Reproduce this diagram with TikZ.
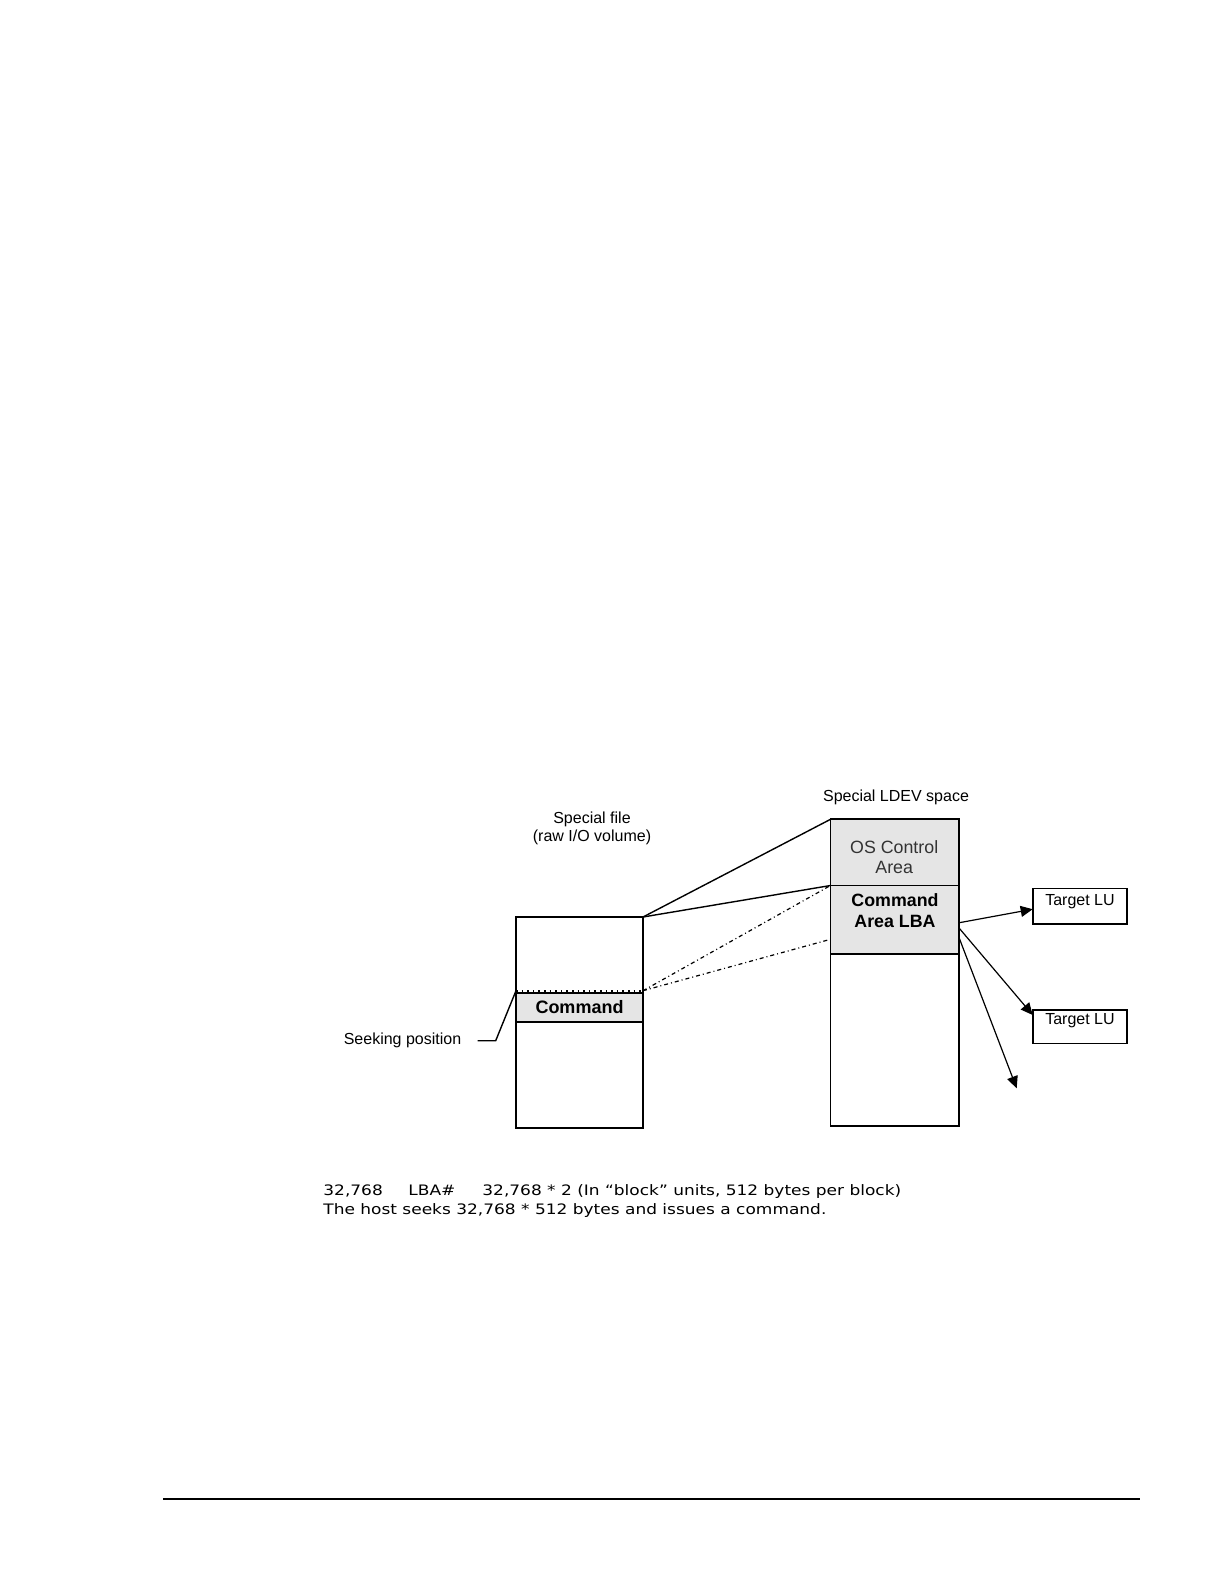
\documentclass[tikz,border=0pt]{standalone}
\usepackage{fontspec}
\setmainfont{Liberation Sans}
\newfontfamily\verdfont[FakeStretch=1.18]{DejaVu Sans}
\usetikzlibrary{arrows.meta}

\tikzset{
	blk/.style={draw, inner sep=0pt, outer sep=0pt, line width=0.9pt},
	grayblk/.style={blk, fill=black!10},
	lbl/.style={font=\fontsize{8}{8.85}\selectfont, align=center, inner sep=0pt},
	dashdot/.style={line width=0.6pt, dash pattern=on 2pt off 1.5pt on 0.5pt off 1.5pt},
	note/.style={font=\verdfont\fontsize{7.2}{9.5}\selectfont, inner sep=0pt, anchor=base west}
}

\begin{document}
\begin{tikzpicture}[x=0.5pt, y=-0.5pt, >={Triangle[length=6pt,width=5.5pt]}]
	\fill[white] (0,0) rectangle (1224,1584);
	\begin{scope}[every node/.style={blk}]
		\node[minimum width=63.5pt, minimum height=105.5pt] (file) at (579.5,1022.5) {};
		\node[grayblk, minimum width=63.5pt, minimum height=14.5pt, font=\bfseries\fontsize{9}{10}\selectfont] (cmd) at (579.5,1007.5) {Command};
		\node[minimum width=64.4pt, minimum height=153.4pt] (ldev) at (894.9,972.7) {};
		\node[grayblk, minimum width=64.4pt, minimum height=33.1pt] (osa) at (894.9,852.4) {};
		\node[grayblk, minimum width=64.4pt, minimum height=34.4pt] (cma) at (894.9,919.9) {};
		\node[minimum width=47.3pt, minimum height=17.8pt] (tlu1) at (1080,906.2) {};
		\node[minimum width=47.3pt, minimum height=16.7pt] (tlu2) at (1080,1026.7) {};
	\end{scope}
	\begin{scope}[every node/.style={lbl}]
		\node (sftxt) at (592,828) {Special file\\(raw I/O volume)};
		\node (ldtxt) at (896,797) {Special LDEV space};
		\node (sktxt) at (402.5,1040) {Seeking position};
		\node (t1txt) at (1080,901.7) {Target LU};
		\node (t2txt) at (1080,1020.7) {Target LU};
		\node[font=\fontsize{8.9}{10}\selectfont, text=black!80] (osatxt) at (894.2,856.7) {OS Control\\Area};
		\node[font=\bfseries\fontsize{8.9}{10.35}\selectfont] (cmatxt) at (895,910.3) {Command\\Area LBA};
	\end{scope}
	% seeking position
	\coordinate (sw) at (516,990.7);
	\coordinate (se) at (643,990.7);
	\coordinate (lead) at (477.7,1040.7);
	\draw[dotted, line width=0.8pt] (sw) -- (se);
	\draw[line width=0.7pt] (lead) -- ++(18,0) -- (sw);
	% mapping to the LDEV
	\coordinate (cml) at (830.5,939.3);
	\draw[line width=0.7pt] (file.north east) -- (ldev.north west);
	\draw[line width=0.7pt] (file.north east) -- (cma.north west);
	\draw[dashdot] (se) -- (cma.north west);
	\draw[dashdot] (se) -- (cml);
	% commands to target LUs
	\coordinate (a1) at (959.3,922.7);
	\coordinate (a2) at (959.3,928.3);
	\coordinate (a3) at (959.3,938.3);
	\coordinate (tip3) at (1016.7,1088.3);
	\begin{scope}[line width=0.6pt]
		\path [->] (a1) edge ([yshift=-1.5pt]tlu1.west);
		\path [->] (a2) edge ([yshift=-2.5pt]tlu2.north west);
		\path [->] (a3) edge (tip3);
	\end{scope}
	% note below
	\node[note] (n1) at (323,1195.7) {32,768};
	\node[note] (n2) at (408,1195.7) {LBA\#};
	\node[note] (n3) at (482,1195.7) {32,768 * 2 (In “block” units, 512 bytes per block)};
	\node[note] (n4) at (323,1214.7) {The host seeks 32,768 * 512 bytes and issues a command.};
	\draw[line width=1pt] (163,1499) -- (1140,1499);
\end{tikzpicture}
\end{document}
